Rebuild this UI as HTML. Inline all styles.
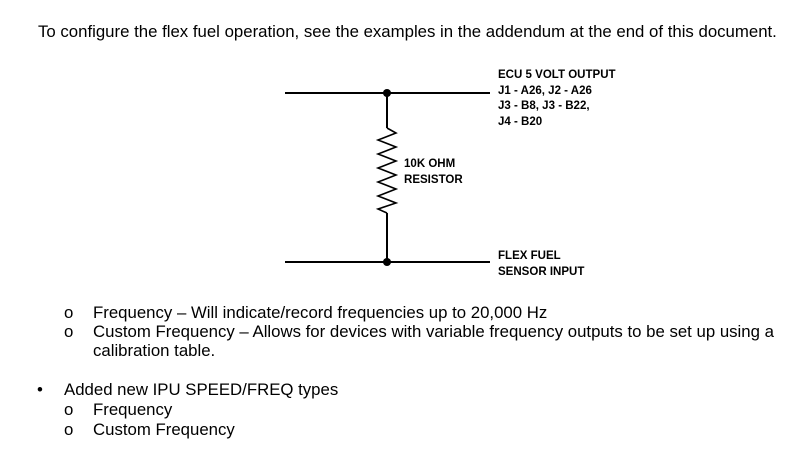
<!DOCTYPE html>
<html><head><style>
body{margin:0;width:804px;height:451px;background:#fff;font-family:"Liberation Sans",Arial,sans-serif;color:#000;position:relative;overflow:hidden}
.t{position:absolute;font-size:16.8px;white-space:nowrap;line-height:18px}
.l{position:absolute;font-size:12px;font-weight:bold;line-height:15.5px;white-space:nowrap;transform:scaleX(0.96);transform-origin:left}
</style></head><body>
<div class="t" style="left:38px;top:23px">To configure the flex fuel operation, see the examples in the addendum at the end of this document.</div>
<svg width="804" height="451" style="position:absolute;left:0;top:0">
<g stroke="#000" stroke-width="2" fill="none">
<line x1="285" y1="93" x2="490" y2="93"/>
<line x1="285" y1="262" x2="490" y2="262"/>
<line x1="387" y1="93" x2="387" y2="128"/>
<line x1="387" y1="213" x2="387" y2="262"/>
<polyline points="387,128 396,133 378,140 396,147 378,154 396,161 378,168 396,175 378,182 396,189 378,196 396,203 378,209 387,213" stroke-width="1.6"/>
</g>
<circle cx="387" cy="93" r="4"/>
<circle cx="387" cy="262" r="4"/>
</svg>
<div class="l" style="left:498px;top:67px">ECU 5 VOLT OUTPUT<br>J1 - A26, J2 - A26<br>J3 - B8, J3 - B22,<br>J4 - B20</div>
<div class="l" style="left:404px;top:156px">10K OHM<br>RESISTOR</div>
<div class="l" style="left:498px;top:248px">FLEX FUEL<br>SENSOR INPUT</div>
<div class="t" style="left:64px;top:304px">o</div>
<div class="t" style="left:93px;top:304px">Frequency – Will indicate/record frequencies up to 20,000 Hz</div>
<div class="t" style="left:64px;top:323px">o</div>
<div class="t" style="left:93px;top:323px">Custom Frequency – Allows for devices with variable frequency outputs to be set up using a</div>
<div class="t" style="left:93px;top:342px">calibration table.</div>
<div class="t" style="left:37px;top:381px">•</div>
<div class="t" style="left:64px;top:381px">Added new IPU SPEED/FREQ types</div>
<div class="t" style="left:64px;top:401px">o</div>
<div class="t" style="left:93px;top:401px">Frequency</div>
<div class="t" style="left:64px;top:421px">o</div>
<div class="t" style="left:93px;top:421px">Custom Frequency</div>
</body></html>
